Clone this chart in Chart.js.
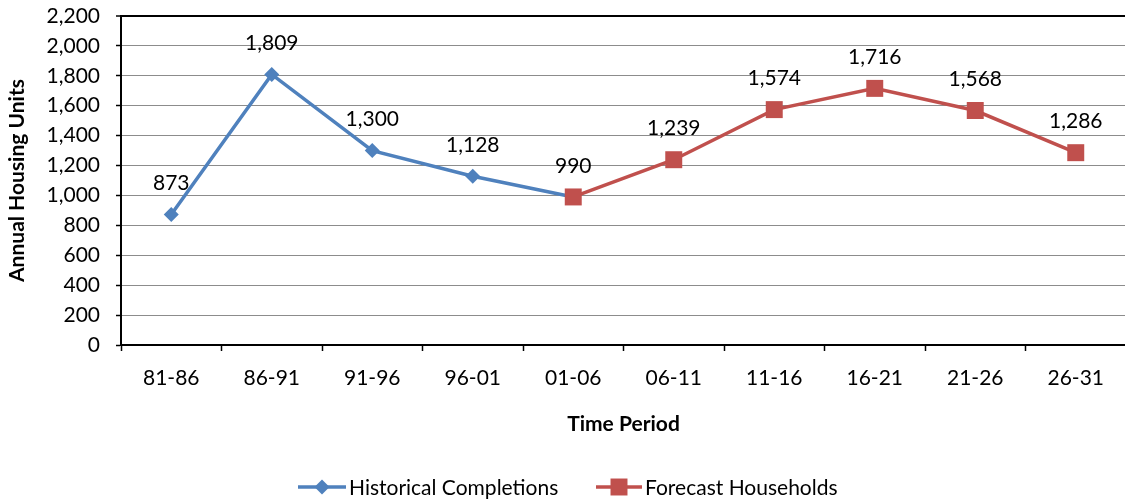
<!DOCTYPE html>
<html>
<head>
<meta charset="utf-8">
<script src="https://cdn.jsdelivr.net/npm/chart.js@4/dist/chart.umd.min.js"></script>
<style>
  html, body { margin: 0; padding: 0; background: #fff; overflow: hidden; }
  #wrap { position: relative; width: 1138px; height: 500px; }
</style>
</head>
<body>
<div id="wrap"><canvas id="c"></canvas></div>
<script>
// Time periods along the x axis
const periods = ['81-86', '86-91', '91-96', '96-01', '01-06', '06-11', '11-16', '16-21', '21-26', '26-31'];
// Annual housing units per period
const historical = [873, 1809, 1300, 1128, 990, null, null, null, null, null];
const forecast = [null, null, null, null, 990, 1239, 1574, 1716, 1568, 1286];
// Value axis range
const yMin = 0, yMax = 2200, yStep = 200;

const seriesNames = ['Historical Completions', 'Forecast Households'];
const BLUE = '#4F81BD';
const RED = '#C0504D';
const FONT = 'Lato, "Open Sans", sans-serif';
const TXT = 21;

const fmt = v => v.toLocaleString('en-US');

// Value labels above each point; a shared point is labelled once
const valueLabels = {
  id: 'valueLabels',
  afterDatasetsDraw(chart) {
    const ctx = chart.ctx;
    const done = new Set();
    ctx.save();
    ctx.font = TXT + 'px ' + FONT;
    ctx.fillStyle = '#000';
    ctx.textAlign = 'center';
    ctx.textBaseline = 'middle';
    chart.data.datasets.forEach((ds, di) => {
      const meta = chart.getDatasetMeta(di);
      ds.data.forEach((v, i) => {
        if (v == null || done.has(i)) return;
        done.add(i);
        const p = meta.data[i];
        ctx.fillText(fmt(v), p.x, p.y - 31);
      });
    });
    ctx.restore();
  }
};

// Legend with line-and-marker swatches under the axis title
const lineLegend = {
  id: 'lineLegend',
  afterDraw(chart) {
    const ctx = chart.ctx;
    const y = 487;
    const items = [
      { name: seriesNames[0], color: BLUE, style: 'rectRot', r: 7.5, x0: 298, x1: 346 },
      { name: seriesNames[1], color: RED, style: 'rect', r: 12, x0: 596, x1: 642 }
    ];
    ctx.save();
    ctx.font = TXT + 'px ' + FONT;
    ctx.textBaseline = 'middle';
    ctx.textAlign = 'left';
    items.forEach(it => {
      ctx.strokeStyle = it.color;
      ctx.lineWidth = 3.5;
      ctx.beginPath();
      ctx.moveTo(it.x0, y);
      ctx.lineTo(it.x1, y);
      ctx.stroke();
      ctx.fillStyle = it.color;
      Chart.helpers.drawPoint(ctx, { pointStyle: it.style, radius: it.r, borderWidth: 0 }, (it.x0 + it.x1) / 2, y);
      ctx.fillStyle = '#000';
      ctx.fillText(it.name, it.x1 + 3, y + 1);
    });
    ctx.restore();
  }
};

new Chart(document.getElementById('c'), {
  type: 'line',
  data: {
    labels: periods,
    datasets: [
      {
        label: seriesNames[0],
        data: historical,
        borderColor: BLUE,
        backgroundColor: BLUE,
        borderWidth: 3.5,
        pointStyle: 'rectRot',
        pointRadius: 7.5,
        pointHoverRadius: 7.5,
        pointBorderWidth: 0,
        tension: 0,
        spanGaps: false,
        order: 1
      },
      {
        label: seriesNames[1],
        data: forecast,
        borderColor: RED,
        backgroundColor: RED,
        borderWidth: 3.5,
        pointStyle: 'rect',
        pointRadius: 12,
        pointHoverRadius: 12,
        pointBorderWidth: 0,
        tension: 0,
        spanGaps: false,
        order: 0
      }
    ]
  },
  options: {
    responsive: true,
    maintainAspectRatio: false,
    animation: false,
    devicePixelRatio: 1,
    layout: { padding: { top: 16, right: 1, bottom: 55, left: 0 } },
    plugins: {
      legend: { display: false },
      tooltip: { enabled: false }
    },
    scales: {
      x: {
        offset: true,
        grid: {
          display: true,
          drawOnChartArea: false,
          offset: true,
          tickLength: 6,
          tickColor: '#000',
          tickWidth: 1.5
        },
        border: { color: '#000', width: 2 },
        ticks: {
          color: '#000',
          font: { family: FONT, size: TXT },
          padding: 15,
          maxRotation: 0,
          autoSkip: false
        },
        title: {
          display: true,
          text: 'Time Period',
          color: '#000',
          font: { family: FONT, size: 21, weight: 'bold' },
          padding: { top: 0, bottom: 8 }
        },
        afterFit(scale) { scale.height = 100; }
      },
      y: {
        min: yMin,
        max: yMax,
        ticks: {
          stepSize: yStep,
          color: '#000',
          font: { family: FONT, size: TXT },
          padding: 16,
          callback: v => fmt(v)
        },
        grid: {
          color: ctx => (ctx.tick && ctx.tick.value === yMax ? '#000' : '#8c8c8c'),
          lineWidth: ctx => (ctx.tick && ctx.tick.value === yMax ? 2 : 1),
          tickLength: 5,
          tickColor: '#000',
          tickWidth: 1.5
        },
        border: { color: '#000', width: 2 },
        title: {
          display: true,
          text: 'Annual Housing Units',
          color: '#000',
          font: { family: FONT, size: 21, weight: 'bold' },
          padding: { top: 5, bottom: 0 }
        },
        afterFit(scale) {
          scale.width = 121;
          scale.paddingTop = 0;
          scale.paddingBottom = 0;
        }
      }
    }
  },
  plugins: [valueLabels, lineLegend]
});
</script>
</body>
</html>
